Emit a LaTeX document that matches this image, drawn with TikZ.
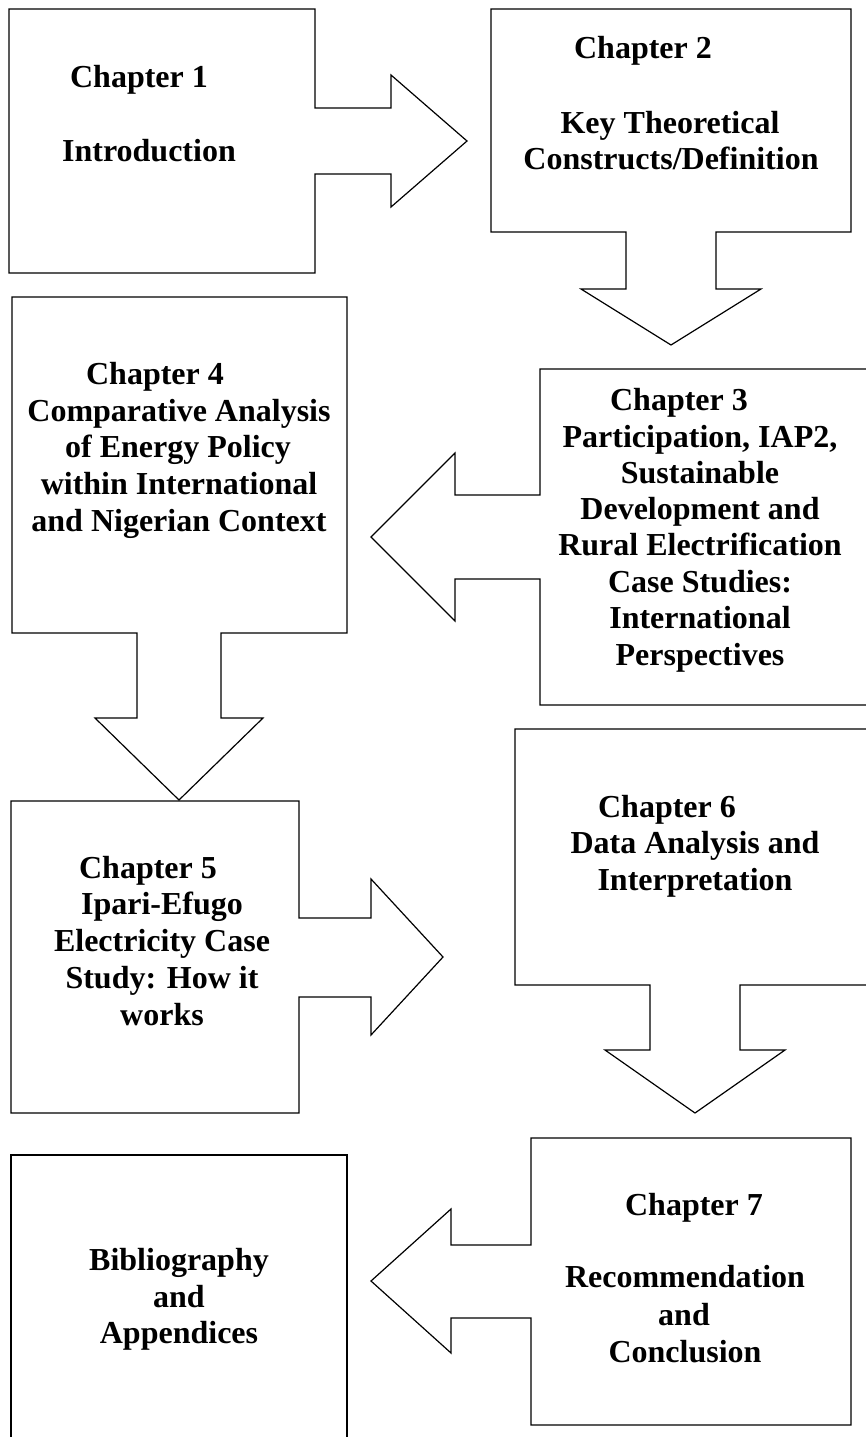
\documentclass[tikz,border=0pt]{standalone}
\usepackage{fontspec}
\setmainfont{Liberation Serif}
\begin{document}
\begin{tikzpicture}[x=1pt,y=-1pt,
  shapeline/.style={draw=black,line width=1.2pt,line join=miter},
  txt/.style={anchor=base,inner sep=0pt,font=\fontsize{32}{36.7}\selectfont\bfseries}]
\useasboundingbox (0,0) rectangle (866,1437);
\clip (0,0) rectangle (866,1437);
% Chapter 1 box with right arrow
\draw[shapeline] (9,9) -- (315,9) -- (315,108) -- (391,108) -- (391,75) -- (467,141) -- (391,207) -- (391,174) -- (315,174) -- (315,273) -- (9,273) -- cycle;
% Chapter 2 box with down arrow
\draw[shapeline] (491,9) -- (851,9) -- (851,232) -- (716,232) -- (716,289) -- (761,289) -- (671,345) -- (581,289) -- (626,289) -- (626,232) -- (491,232) -- cycle;
% Chapter 3 box with left arrow
\draw[shapeline] (540,369) -- (880,369) -- (880,705) -- (540,705) -- (540,579) -- (455,579) -- (455,621) -- (371,537) -- (455,453) -- (455,495) -- (540,495) -- cycle;
% Chapter 4 box with down arrow
\draw[shapeline] (12,297) -- (347,297) -- (347,633) -- (221,633) -- (221,718) -- (263,718) -- (179,800) -- (95,718) -- (137,718) -- (137,633) -- (12,633) -- cycle;
% Chapter 5 box with right arrow
\draw[shapeline] (11,801) -- (299,801) -- (299,918) -- (371,918) -- (371,879) -- (443,957) -- (371,1035) -- (371,997) -- (299,997) -- (299,1113) -- (11,1113) -- cycle;
% Chapter 6 box with down arrow
\draw[shapeline] (515,729) -- (880,729) -- (880,985) -- (740,985) -- (740,1050) -- (785,1050) -- (695,1113) -- (605,1050) -- (650,1050) -- (650,985) -- (515,985) -- cycle;
% Chapter 7 box with left arrow
\draw[shapeline] (531,1138) -- (851,1138) -- (851,1425) -- (531,1425) -- (531,1318) -- (451,1318) -- (451,1353) -- (371,1281) -- (451,1209) -- (451,1245) -- (531,1245) -- cycle;
% Bibliography box
\draw[shapeline] (11,1155) -- (347,1155) -- (347,1460) -- (11,1460) -- cycle;

% texts
\node[txt] (c1a) at (139,87) {Chapter 1};
\node[txt] (c1b) at (149,161) {Introduction};

\node[txt] (c2a) at (643,59) {Chapter 2};
\node[txt] (c2b) at (670,133) {Key Theoretical};
\node[txt] (c2c) at (671,169) {Constructs/Definition};

\node[txt] (c4a) at (155,384) {Chapter 4};
\node[txt] (c4b) at (179,421) {Comparative Analysis};
\node[txt] (c4c) at (178,457) {of Energy Policy};
\node[txt] (c4d) at (179,494) {within International};
\node[txt] (c4e) at (179,531) {and Nigerian Context};

\node[txt] (c3a) at (679,410) {Chapter 3};
\node[txt] (c3b) at (700,447) {Participation, IAP2,};
\node[txt] (c3c) at (700,483) {Sustainable};
\node[txt] (c3d) at (700,519) {Development and};
\node[txt] (c3e) at (700,555) {Rural Electrification};
\node[txt] (c3f) at (700,592) {Case Studies:};
\node[txt] (c3g) at (700,628) {International};
\node[txt] (c3h) at (700,665) {Perspectives};

\node[txt] (c5a) at (148,878) {Chapter 5};
\node[txt] (c5b) at (162,914) {Ipari-Efugo};
\node[txt] (c5c) at (162,951) {Electricity Case};
\node[txt] (c5d) at (162,988) {Study: How it};
\node[txt] (c5e) at (162,1025) {works};

\node[txt] (c6a) at (667,817) {Chapter 6};
\node[txt] (c6b) at (695,853) {Data Analysis and};
\node[txt] (c6c) at (695,890) {Interpretation};

\node[txt] (c7a) at (694,1215) {Chapter 7};
\node[txt] (c7b) at (685,1287) {Recommendation};
\node[txt] (c7c) at (684,1325) {and};
\node[txt] (c7d) at (685,1362) {Conclusion};

\node[txt] (bba) at (179,1270) {Bibliography};
\node[txt] (bbb) at (179,1307) {and};
\node[txt] (bbc) at (179,1343) {Appendices};
\end{tikzpicture}
\end{document}
